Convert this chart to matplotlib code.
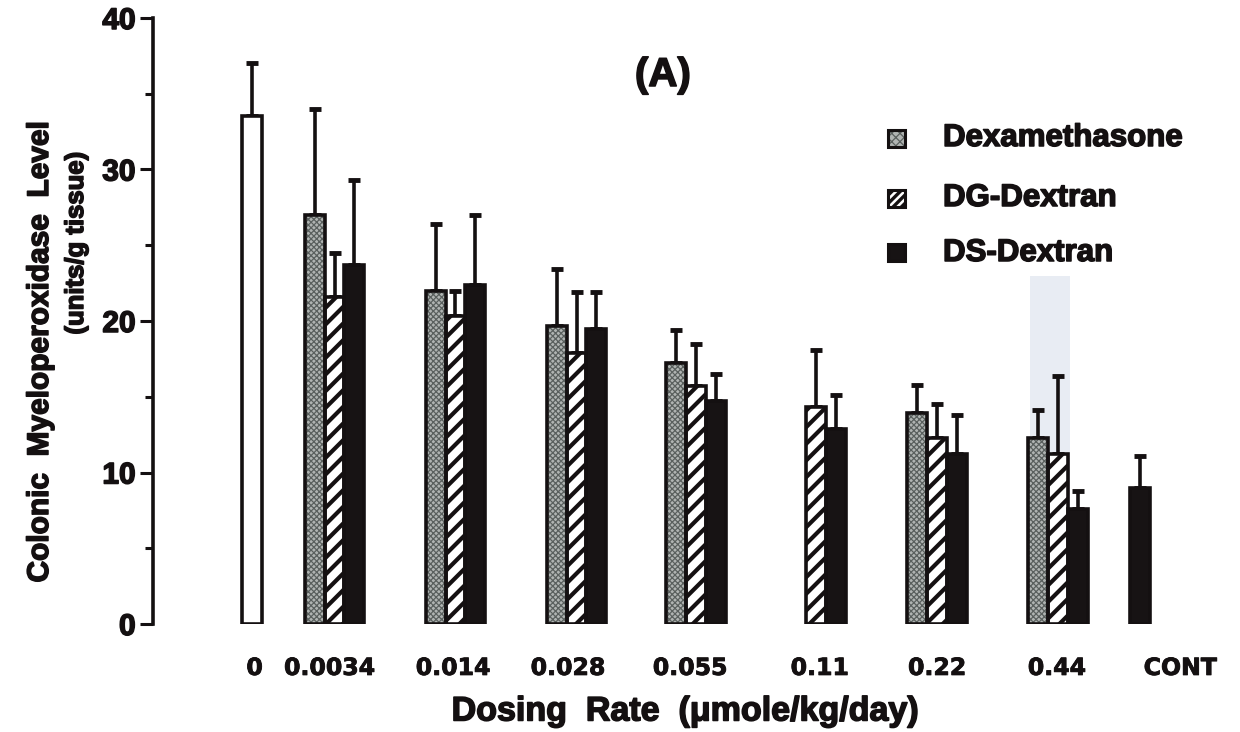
import numpy as np
import matplotlib
matplotlib.use("Agg")
import matplotlib.pyplot as plt
import matplotlib.patheffects as pe
from matplotlib.patches import Rectangle

# ---- data -------------------------------------------------------------
dose_labels = ["0", "0.0034", "0.014", "0.028", "0.055", "0.11", "0.22", "0.44", "CONT"]

vehicle_mean = 33.5
vehicle_err = 3.5

# dose groups 0.0034 .. 0.44
dexa_mean = [27.0, 22.0, 19.7, 17.2, np.nan, 13.9, 12.3]
dexa_err = [7.0, 4.4, 3.7, 2.2, np.nan, 1.9, 1.8]
dg_mean = [21.6, 20.3, 17.9, 15.7, 14.3, 12.3, 11.2]
dg_err = [2.9, 1.7, 4.0, 2.8, 3.8, 2.2, 5.2]
ds_mean = [23.7, 22.4, 19.5, 14.7, 12.9, 11.2, 7.6]
ds_err = [5.6, 4.6, 2.4, 1.8, 2.2, 2.6, 1.2]

cont_mean = 9.0
cont_err = 2.1

series_names = ["Dexamethasone", "DG-Dextran", "DS-Dextran"]

# ---- layout -----------------------------------------------------------
vehicle_pos = 0.82
group_pos = np.array([1.50, 2.50, 3.50, 4.49, 5.48, 6.48, 7.48])
cont_pos = 8.16
label_pos = [0.84, 1.46, 2.48, 3.43, 4.44, 5.51, 6.48, 7.47, 8.49]
bar_w = 0.165

INK = "#141011"
DEXA_FACE = "#b0b4b2"
DEXA_DOTS = "#5a605e"
DS_FACE = "#171314"

plt.rcParams["font.family"] = ["Liberation Sans", "DejaVu Sans"]
plt.rcParams["font.weight"] = "bold"
plt.rcParams["hatch.linewidth"] = 0.9

HEAVY = [pe.withStroke(linewidth=1.1, foreground=INK)]

fig = plt.figure(figsize=(12.4, 7.32), dpi=100)
fig.patch.set_facecolor("white")
ax = fig.add_axes([153 / 1240, (732 - 624) / 732, (1240 - 153) / 1240, (624 - 18) / 732])
ax.set_xlim(0, 1087 / 121)
ax.set_ylim(0, 40)

# faint bluish stain behind the 0.44 group
ax.axvspan(7.25, 7.58, ymin=0, ymax=23.0 / 40, color="#e8ecf3", lw=0, zorder=0)


def set_hatch_lw(patches, lw):
    for p in patches:
        if hasattr(p, "set_hatch_linewidth"):
            p.set_hatch_linewidth(lw)


def up_err(x, y, e):
    x = np.atleast_1d(x)
    y = np.atleast_1d(np.asarray(y, float))
    e = np.atleast_1d(np.asarray(e, float))
    ok = ~np.isnan(y)
    ax.errorbar(x[ok], y[ok], yerr=[np.zeros(ok.sum()), e[ok]], fmt="none",
                ecolor=INK, elinewidth=2.6, capsize=4, capthick=3.5, zorder=2)


# vehicle (open bar)
ax.bar(vehicle_pos, vehicle_mean, bar_w, color="white", edgecolor=INK, lw=2.6, zorder=3)
up_err(vehicle_pos, vehicle_mean, vehicle_err)

x_dexa = group_pos - bar_w
x_dg = group_pos
x_ds = group_pos + bar_w

# Dexamethasone: fine dotted screen
b = ax.bar(x_dexa, dexa_mean, bar_w, color=DEXA_FACE, edgecolor=DEXA_DOTS,
           hatch="xxxxxx", lw=0, zorder=3)
set_hatch_lw(b, 0.9)
ax.bar(x_dexa, dexa_mean, bar_w, fill=False, edgecolor=INK, lw=2.6, zorder=4)
up_err(x_dexa, dexa_mean, dexa_err)

# DG-Dextran: diagonal stripes
with plt.rc_context({"hatch.linewidth": 3.0}):
    b = ax.bar(x_dg, dg_mean, bar_w, color="white", edgecolor=INK, hatch="//",
               lw=0, zorder=3)
    set_hatch_lw(b, 3.0)
ax.bar(x_dg, dg_mean, bar_w, fill=False, edgecolor=INK, lw=2.6, zorder=4)
up_err(x_dg, dg_mean, dg_err)

# DS-Dextran: solid dark
ax.bar(x_ds, ds_mean, bar_w, color=DS_FACE, edgecolor=INK, lw=2.6, zorder=3)
up_err(x_ds, ds_mean, ds_err)

# control
ax.bar(cont_pos, cont_mean, bar_w, color=DS_FACE, edgecolor=INK, lw=2.6, zorder=3)
up_err(cont_pos, cont_mean, cont_err)

# ---- axes styling -----------------------------------------------------
for s in ["top", "right", "bottom"]:
    ax.spines[s].set_visible(False)
ax.spines["left"].set_linewidth(2.6)
ax.spines["left"].set_color(INK)
ax.spines["left"].set_bounds(0, 40)

ax.set_yticks([0, 10, 20, 30, 40])
ax.set_yticks([5, 15, 25, 35], minor=True)
ax.tick_params(axis="y", which="major", length=9.5, width=2.2, color=INK,
               labelsize=21.5, labelcolor=INK, pad=3)
ax.tick_params(axis="y", which="minor", length=6, width=2.2, color=INK)
for t in ax.get_yticklabels():
    t.set_fontweight("bold")
    t.set_path_effects(HEAVY)

ax.set_xticks(label_pos)
ax.set_xticklabels(dose_labels, family=["DejaVu Sans"], fontweight="bold",
                   fontsize=17, color=INK)
for t in ax.get_xticklabels():
    t.set_path_effects([pe.withStroke(linewidth=0.6, foreground=INK)])
ax.tick_params(axis="x", length=0, pad=23)

fig.text(40 / 1240, 1 - 352 / 732, "Colonic  Myeloperoxidase  Level", rotation=90,
         ha="center", va="center", fontsize=21.5, fontweight="bold", color=INK,
         path_effects=HEAVY)
fig.text(76 / 1240, 1 - 243 / 732, "(units/g tissue)", rotation=90,
         ha="center", va="center", fontsize=18.5, fontweight="bold", color=INK,
         path_effects=HEAVY)
fig.text(685 / 1240, 1 - 712 / 732, "Dosing  Rate  (\u03bcmole/kg/day)",
         ha="center", va="center", fontsize=24.5, fontweight="bold", color=INK,
         path_effects=HEAVY)
fig.text(663 / 1240, 1 - 75 / 732, "(A)", ha="center", va="center",
         fontsize=29, fontweight="bold", color=INK, path_effects=HEAVY)

# ---- key --------------------------------------------------------------
key_rows = [138, 198, 253]
key_styles = [
    dict(facecolor=DEXA_FACE, edgecolor=DEXA_DOTS, hatch="xxxx", hlw=0.9),
    dict(facecolor="white", edgecolor=INK, hatch="////", hlw=2.4),
    dict(facecolor=DS_FACE, edgecolor=INK, hatch=None, hlw=1.0),
]
sq = 17
for name, yrow, st in zip(series_names, key_rows, key_styles):
    x0 = 888 / 1240
    y0 = 1 - (yrow + sq / 2) / 732
    w = sq / 1240
    h = sq / 732
    with plt.rc_context({"hatch.linewidth": st["hlw"]}):
        r = Rectangle((x0, y0), w, h, transform=fig.transFigure,
                      facecolor=st["facecolor"], edgecolor=st["edgecolor"],
                      hatch=st["hatch"], lw=0)
        set_hatch_lw([r], st["hlw"])
    fig.add_artist(r)
    fig.add_artist(Rectangle((x0, y0), w, h, transform=fig.transFigure,
                             fill=False, edgecolor=INK, lw=2.2))
    fig.text(943 / 1240, 1 - yrow / 732, name, ha="left", va="center",
             fontsize=22.5, fontweight="bold", color=INK, path_effects=HEAVY)

fig.savefig("out.png", dpi=100, facecolor="white")
